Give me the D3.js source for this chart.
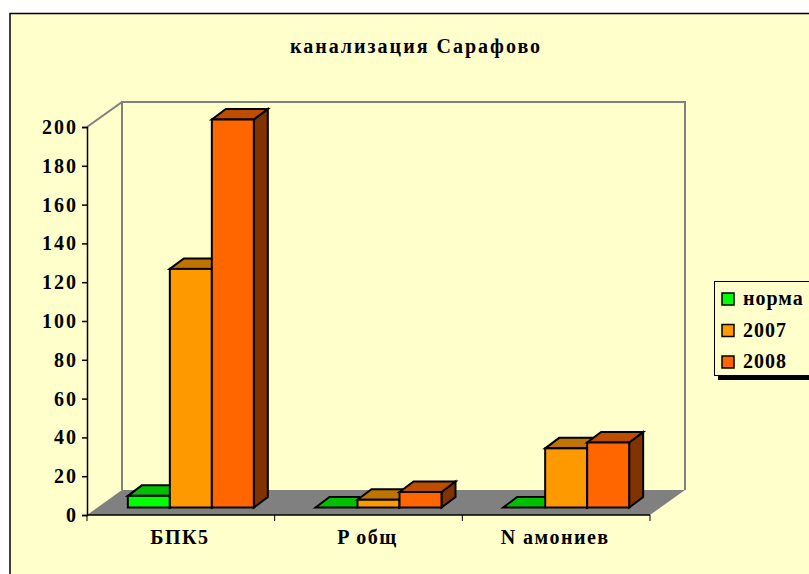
<!DOCTYPE html>
<html>
<head>
<meta charset="utf-8">
<script src="https://cdn.jsdelivr.net/npm/d3@7"></script>
<style>
  html, body { margin: 0; padding: 0; background: #ffffff; overflow: hidden; }
  text { font-family: "Liberation Serif", serif; font-weight: bold; fill: #000; }
</style>
</head>
<body>
<div id="chart"></div>
<script>
// data
const categories = ["БПК5", "P общ", "N амониев"];
const seriesNames = ["норма", "2007", "2008"];
const norma = [6, 0, 0];
const values2007 = [123, 4, 30.5];
const values2008 = [200, 8, 33.5];
const yTicks = [0, 20, 40, 60, 80, 100, 120, 140, 160, 180, 200];
const colors = ["#00ff00", "#ff9900", "#ff6600"];
const topColors = ["#00c000", "#bf7300", "#bf4d00"];
const sideColors = ["#008000", "#804d00", "#803300"];

const chartTitle = "канализация Сарафово";
const svg_width = 809, svg_height = 574;

// front plane of the 3d box
const plotLeft = 87, plotRight = 650, plotBottom = 515, plotTop = 127;
const depthX = 35, depthY = 25;
const barOffX = 10, barOffY = 7.5;   // bars stand a bit inside the floor
const barDepthX = 14, barDepthY = 10.5;

const svg = d3.select("#chart").append("svg")
  .attr("width", svg_width)
  .attr("height", svg_height)
  .style("display", "block");

// chart area, runs off the right and bottom edges
svg.append("rect")
  .attr("x", 10).attr("y", 13.5)
  .attr("width", 840).attr("height", 600)
  .attr("fill", "#ffffcc")
  .attr("stroke", "#000")
  .attr("stroke-width", 1.5);

svg.append("text")
  .attr("x", 416).attr("y", 53)
  .attr("text-anchor", "middle")
  .style("font-size", "20px")
  .style("letter-spacing", "2px")
  .text(chartTitle);

const x = d3.scaleBand().domain(categories).range([plotLeft, plotRight]);
const x1 = d3.scaleBand().domain(seriesNames).range([0, 126]);
const y = d3.scaleLinear().domain([0, 200]).range([plotBottom, plotTop]);

const poly = pts => pts.map(p => p.join(",")).join(" ");

// walls
svg.append("polyline")
  .attr("points", poly([[plotLeft, plotTop], [plotLeft + depthX, plotTop - depthY], [plotRight + depthX, plotTop - depthY], [plotRight + depthX, plotBottom - depthY]]))
  .attr("fill", "none").attr("stroke", "#808080").attr("stroke-width", 2);
svg.append("line")
  .attr("x1", plotLeft + depthX).attr("y1", plotTop - depthY)
  .attr("x2", plotLeft + depthX).attr("y2", plotBottom - depthY)
  .attr("stroke", "#808080").attr("stroke-width", 2);

// floor
svg.append("polygon")
  .attr("points", poly([[plotLeft, plotBottom], [plotRight, plotBottom], [plotRight + depthX, plotBottom - depthY], [plotLeft + depthX, plotBottom - depthY]]))
  .attr("fill", "#808080");

// bars
const series = [norma, values2007, values2008];
const pad = (x.bandwidth() - x1.range()[1]) / 2;
categories.forEach((cat, c) => {
  seriesNames.forEach((name, s) => {
    const x0 = x(cat) + pad + x1(name) + barOffX;
    const x2 = x0 + x1.bandwidth();
    const yb = plotBottom - barOffY;
    const yt = y(series[s][c]) - barOffY;
    const g = svg.append("g")
      .attr("stroke", "#000").attr("stroke-width", 2).attr("stroke-linejoin", "miter");
    g.append("polygon")
      .attr("points", poly([[x2, yt], [x2 + barDepthX, yt - barDepthY], [x2 + barDepthX, yb - barDepthY], [x2, yb]]))
      .attr("fill", sideColors[s]);
    g.append("polygon")
      .attr("points", poly([[x0, yt], [x0 + barDepthX, yt - barDepthY], [x2 + barDepthX, yt - barDepthY], [x2, yt]]))
      .attr("fill", topColors[s]);
    g.append("rect")
      .attr("x", x0).attr("y", yt)
      .attr("width", x2 - x0).attr("height", yb - yt)
      .attr("fill", colors[s]);
  });
});

// y axis
const yAxis = svg.append("g")
  .attr("transform", "translate(" + plotLeft + ",0)")
  .call(d3.axisLeft(y).tickValues(yTicks).tickSize(5).tickPadding(4));
yAxis.selectAll("path, line").attr("stroke", "#000").attr("stroke-width", 1.5);
yAxis.selectAll("text")
  .attr("fill", "#000")
  .style("font-family", '"Liberation Serif", serif')
  .style("font-size", "20px")
  .style("letter-spacing", "2px");

// x axis: ticks sit between the categories
const xEdges = [0, 1, 2, 3].map(i => plotLeft + i * x.step());
const xAxis = svg.append("g")
  .attr("transform", "translate(0," + plotBottom + ")");
xAxis.append("line")
  .attr("x1", plotLeft).attr("x2", plotRight)
  .attr("stroke", "#000").attr("stroke-width", 1.5);
xAxis.selectAll(".tick").data(xEdges).enter().append("line")
  .attr("class", "tick")
  .attr("x1", d => d).attr("x2", d => d)
  .attr("y1", 0).attr("y2", 6)
  .attr("stroke", "#000").attr("stroke-width", 1);
xAxis.selectAll(".label").data(categories).enter().append("text")
  .attr("class", "label")
  .attr("x", d => x(d) + x.bandwidth() / 2 - 1)
  .attr("y", 29)
  .attr("text-anchor", "middle")
  .style("font-size", "20px")
  .style("letter-spacing", "1.5px")
  .text(d => d);

// legend, runs off the right edge like the original
const legend = svg.append("g").attr("transform", "translate(714,281)");
legend.append("rect").attr("x", 4).attr("y", 4).attr("width", 120).attr("height", 95).attr("fill", "#000");
legend.append("rect").attr("x", 0.5).attr("y", 0.5).attr("width", 120).attr("height", 94)
  .attr("fill", "#ffffcc").attr("stroke", "#000");
const legendY = d3.scalePoint().domain(seriesNames).range([18, 81]);
seriesNames.forEach((name, s) => {
  legend.append("rect")
    .attr("x", 8).attr("y", legendY(name) - 6)
    .attr("width", 12).attr("height", 12)
    .attr("fill", colors[s]).attr("stroke", "#000").attr("stroke-width", 1.5);
  legend.append("text")
    .attr("x", 29).attr("y", legendY(name) + 6)
    .style("font-size", "20px")
    .style("letter-spacing", "1px")
    .text(name);
});
</script>
</body>
</html>
